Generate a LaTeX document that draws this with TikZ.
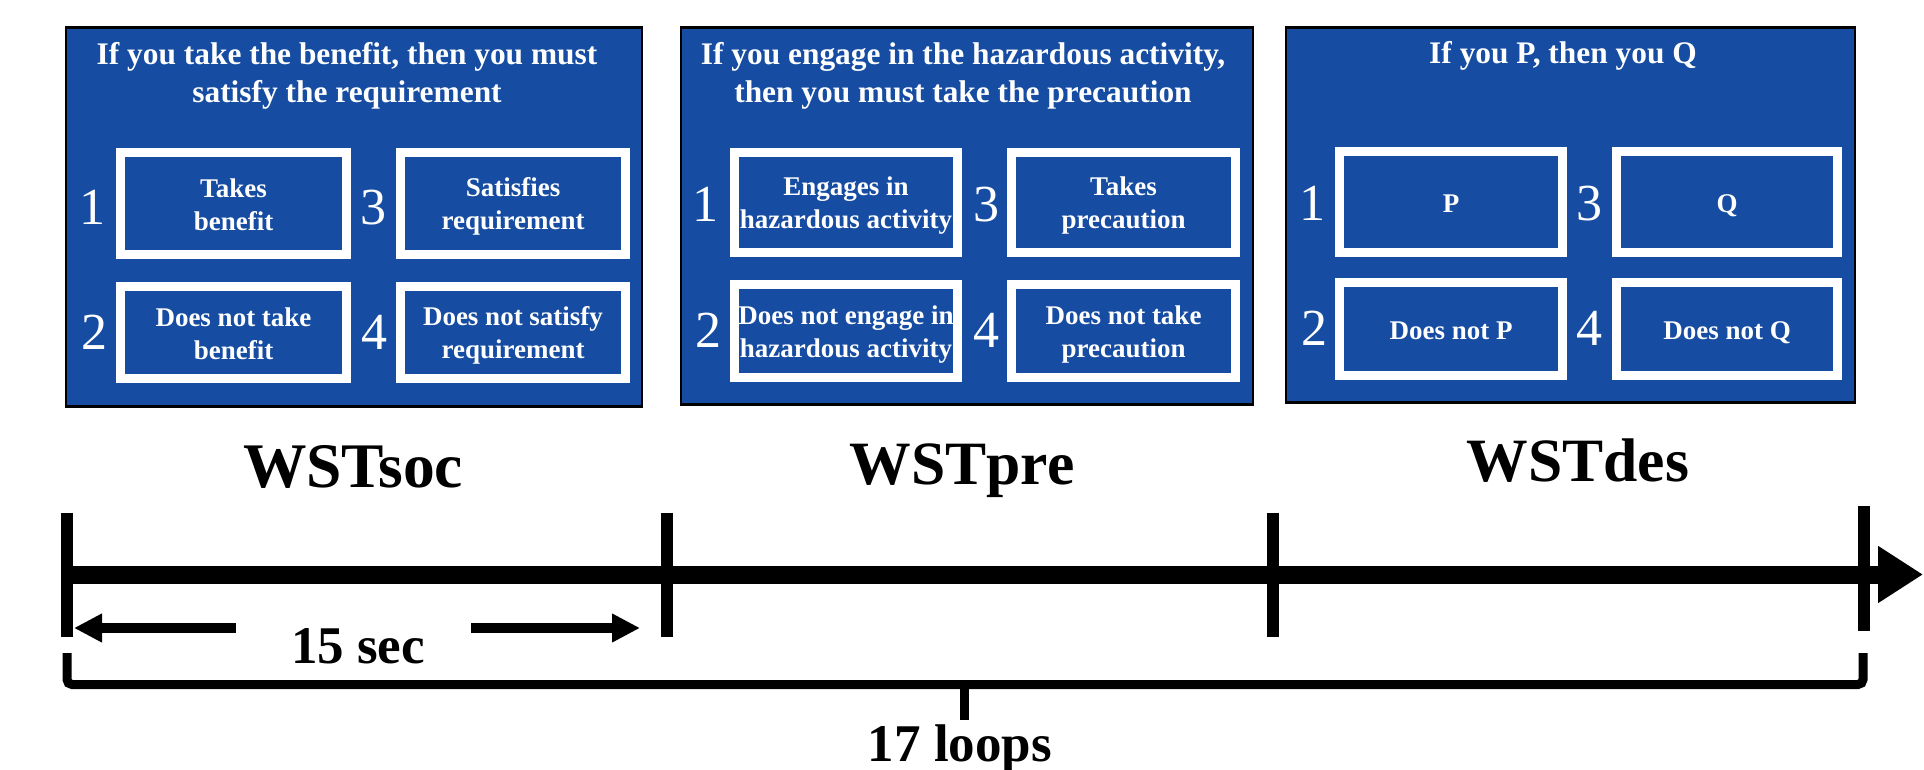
\documentclass[tikz,border=0pt]{standalone}
\usepackage{fontspec}
\setmainfont{Liberation Serif}
\usetikzlibrary{arrows.meta}
\definecolor{panelblue}{RGB}{22,76,161}
\newcommand{\hs}{\rule{0pt}{25pt}}
\newcommand{\ds}{\rule[-5pt]{0pt}{5pt}}
\newcommand{\qbox}[6]{%
  \node[boxbg, minimum width=#4pt, minimum height=#5pt] (#1) at (#2,#3) {};
  \node[boxtext] (#1t) at (#1.center) {\hs #6\ds};
  \draw[frameline] (#1.north west) rectangle (#1.south east);
}
\begin{document}
\begin{tikzpicture}[x=1pt,y=-1pt,
  panel/.style={draw=black, line width=2.5pt, fill=panelblue},
  boxbg/.style={fill=panelblue, inner sep=0pt, draw=none},
  boxtext/.style={text=white, align=center, inner sep=0pt, font=\fontsize{27}{33}\selectfont\bfseries},
  frameline/.style={draw=white, line width=9pt},
  title/.style={text=white, align=center, inner sep=0pt, font=\fontsize{31.4}{38}\selectfont\bfseries},
  num/.style={text=white, inner sep=0pt, anchor=base, font=\fontsize{52}{52}\selectfont},
  lab/.style={text=black, inner sep=0pt, anchor=base, font=\fontsize{61.6}{70}\selectfont\bfseries},
  lab2/.style={text=black, inner sep=0pt, anchor=base, font=\fontsize{53}{60}\selectfont\bfseries},
  tick/.style={draw=black, line width=12pt},
  bar/.style={draw=black, line width=18pt, -{Triangle[length=45pt,width=54pt]}},
  sarrow/.style={draw=black, line width=10pt, -{Triangle[length=28pt,width=27pt]}},
  bracket/.style={draw=black, line width=9pt, rounded corners=5pt}
]
\useasboundingbox (0,0) rectangle (1924,770);

% panels
\node[panel, inner sep=0pt, minimum width=576pt, minimum height=379pt] (p1) at (354,217) {};
\node[panel, inner sep=0pt, minimum width=572pt, minimum height=377pt] (p2) at (967,216) {};
\node[panel, inner sep=0pt, minimum width=569pt, minimum height=375pt] (p3) at (1570.5,215) {};

% titles
\node[title] (t1) at (347,76) {If you take the benefit, then you must\\satisfy the requirement};
\node[title] (t2) at (963,76) {If you engage in the hazardous activity,\\then you must take the precaution};
\node[title, anchor=base] (t3) at (1563,64) {If you P, then you Q};

% panel 1 boxes
\qbox{a1}{233.5}{203.5}{226}{102}{Takes\\benefit}
\qbox{a3}{513}{203.5}{225}{102}{Satisfies\\requirement}
\qbox{a2}{233.5}{332.5}{226}{92}{Does not take\\benefit}
\qbox{a4}{513}{332.5}{225}{92}{Does not satisfy\\requirement}
\node[num] (n11) at (92,224) {1};
\node[num] (n13) at (373.5,224) {3};
\node[num] (n12) at (94,349) {2};
\node[num] (n14) at (374,349) {4};

% panel 2 boxes
\qbox{b1}{846}{202.5}{223}{100}{Engages in\\hazardous activity}
\qbox{b3}{1123.5}{202.5}{224}{100}{Takes\\precaution}
\qbox{b2}{846}{331}{223}{93}{Does not engage in\\hazardous activity}
\qbox{b4}{1123.5}{331}{224}{93}{Does not take\\precaution}
\node[num] (n21) at (705,222) {1};
\node[num] (n23) at (986,222) {3};
\node[num] (n22) at (708,347) {2};
\node[num] (n24) at (986,347) {4};

% panel 3 boxes
\qbox{c1}{1451}{202}{223}{101}{P}
\qbox{c3}{1727}{202}{221}{101}{Q}
\qbox{c2}{1451}{329}{223}{93}{Does not P}
\qbox{c4}{1727}{329}{221}{93}{Does not Q}
\node[num] (n31) at (1312,221) {1};
\node[num] (n33) at (1589,221) {3};
\node[num] (n32) at (1314,345) {2};
\node[num] (n34) at (1589,345) {4};

% condition labels
\node[lab, font=\fontsize{63.5}{70}\selectfont\bfseries] (wsoc) at (353,487) {WSTsoc};
\node[lab] (wpre) at (962,484) {WSTpre};
\node[lab] (wdes) at (1578,481) {WSTdes};

% timeline
\coordinate (barL) at (72,574.5);
\coordinate (barR) at (1923,574.5);
\draw[bar] (barL) -- (barR);
\coordinate (k1a) at (66.7,512.7); \coordinate (k1b) at (66.7,636.7);
\coordinate (k2a) at (666.5,512.7); \coordinate (k2b) at (666.5,636.7);
\coordinate (k3a) at (1272.5,512.7); \coordinate (k3b) at (1272.5,636.7);
\coordinate (k4a) at (1863.5,506); \coordinate (k4b) at (1863.5,631);
\draw[tick] (k1a) -- (k1b);
\draw[tick] (k2a) -- (k2b);
\draw[tick] (k3a) -- (k3b);
\draw[tick] (k4a) -- (k4b);

% 15 sec
\coordinate (s1a) at (236,628); \coordinate (s1b) at (74,628);
\coordinate (s2a) at (471,628); \coordinate (s2b) at (640,628);
\draw[sarrow] (s1a) -- (s1b);
\draw[sarrow] (s2a) -- (s2b);
\node[lab2] (sec) at (358,663) {15 sec};

% 17 loops bracket
\coordinate (bl) at (67,653); \coordinate (br) at (1863,653);
\draw[bracket] (bl) -- (67,684.5) -- (1863,684.5) -- (br);
\coordinate (bm) at (964.5,684.5); \coordinate (bs) at (964.5,720);
\draw[draw=black, line width=9pt] (bm) -- (bs);
\node[lab2] (loops) at (960,761) {17 loops};
\end{tikzpicture}
\end{document}
